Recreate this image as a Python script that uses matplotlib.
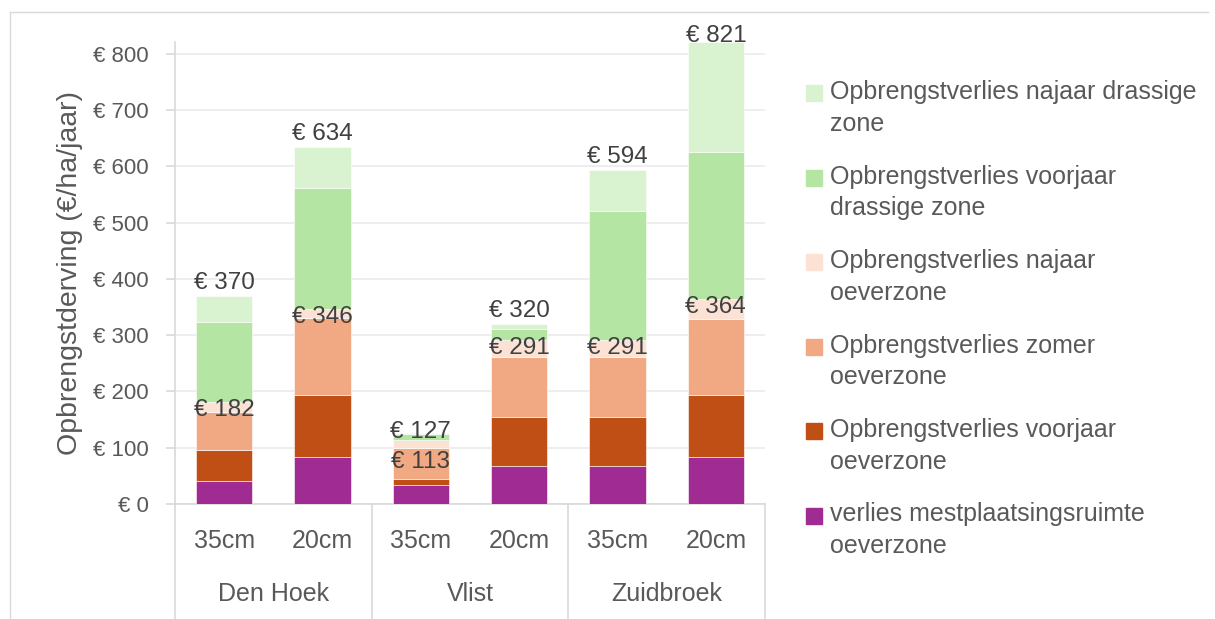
import numpy as np
import matplotlib
matplotlib.use("Agg")
import matplotlib.pyplot as plt
from matplotlib.patches import Rectangle
from matplotlib.lines import Line2D

plt.rcParams['font.family'] = ['Liberation Sans', 'DejaVu Sans']

# data
locaties = ['Den Hoek', 'Vlist', 'Zuidbroek']
dieptes = ['35cm', '20cm', '35cm', '20cm', '35cm', '20cm']

mestplaatsing = [41, 84, 33, 67, 67, 84]
voorjaar_oever = [55, 109, 11, 88, 88, 109]
zomer_oever = [68, 137, 56, 106, 107, 136]
najaar_oever = [18, 16, 13, 30, 29, 35]
voorjaar_drassig = [141, 216, 12, 20, 229, 261]
najaar_drassig = [47, 72, 2, 9, 74, 196]

label_oever = [182, 346, 113, 291, 291, 364]
label_totaal = [370, 634, 127, 320, 594, 821]

series = [
    ('verlies mestplaatsingsruimte\noeverzone', mestplaatsing, '#A02B93'),
    ('Opbrengstverlies voorjaar\noeverzone', voorjaar_oever, '#C04F15'),
    ('Opbrengstverlies zomer\noeverzone', zomer_oever, '#F1A983'),
    ('Opbrengstverlies najaar\noeverzone', najaar_oever, '#FBE2D5'),
    ('Opbrengstverlies voorjaar\ndrassige zone', voorjaar_drassig, '#B4E5A2'),
    ('Opbrengstverlies najaar drassige\nzone', najaar_drassig, '#D9F2D0'),
]

tekst = '#595959'
grijs = '#D9D9D9'
W, H = 1215, 619

fig = plt.figure(figsize=(12.15, 6.19), dpi=100)
ax = fig.add_axes([175 / W, 1 - 504 / H, 590 / W, 462 / H])

x = np.arange(len(dieptes))
bottom = np.zeros(len(dieptes))
for naam, vals, kleur in series:
    ax.bar(x, vals, 0.57, bottom=bottom, color=kleur, label=naam,
           edgecolor='white', linewidth=0.4, zorder=3)
    bottom += np.array(vals)

# data labels
for i in range(len(dieptes)):
    dy = -22 if i == 2 else -8
    ax.annotate(f'€ {label_oever[i]}', (x[i], label_oever[i]), xytext=(0, dy),
                textcoords='offset pixels', ha='center', va='center',
                fontsize=17.5, color='#404040', zorder=5)
    dy = 1 if i == 2 else (6 if i == 5 else 13)
    ax.annotate(f'€ {label_totaal[i]}', (x[i], label_totaal[i]), xytext=(0, dy),
                textcoords='offset pixels', ha='center', va='center',
                fontsize=17.5, color='#404040', zorder=5)

ax.set_xlim(-0.5, len(dieptes) - 0.5)
ax.set_ylim(0, 821)
ax.set_yticks(np.arange(0, 801, 100))
ax.set_yticklabels([f'€ {v}' for v in range(0, 801, 100)])
ax.yaxis.grid(True, color='#EBEBEB', linewidth=1.2, zorder=0)
ax.set_axisbelow(True)
ax.tick_params(axis='y', colors=grijs, labelcolor=tekst, labelsize=16,
               length=6.5, width=1.2, pad=12.5)
ax.set_ylabel('Opbrengstderving (€/ha/jaar)', fontsize=20.5, color=tekst, labelpad=7)

for s in ['top', 'right']:
    ax.spines[s].set_visible(False)
ax.spines['left'].set_color(grijs)
ax.spines['bottom'].set_color(grijs)
ax.spines['left'].set_linewidth(1.2)
ax.spines['bottom'].set_linewidth(1.2)

# two-level category axis
ax.set_xticks([])
trans = ax.get_xaxis_transform()
for i, d in enumerate(dieptes):
    ax.text(x[i], -0.08, d, transform=trans, ha='center', va='center',
            fontsize=18, color=tekst)
for j, loc in enumerate(locaties):
    ax.text(2 * j + 0.5, -0.195, loc, transform=trans, ha='center', va='center',
            fontsize=18, color=tekst)
for xs in [-0.5, 1.5, 3.5, 5.5]:
    ax.add_line(Line2D([xs, xs], [0, -0.25], transform=trans, color=grijs,
                       linewidth=1.2, clip_on=False))

# legend (square lined up with the first text line, like Excel)
for k, (naam, _, kleur) in enumerate(series[::-1]):
    y1 = 93 + k * 84.5
    fig.add_artist(Rectangle((806 / W, 1 - (y1 + 8) / H), 16 / W, 16 / H,
                             transform=fig.transFigure, color=kleur))
    fig.text(830 / W, 1 - (y1 - 13) / H, naam, ha='left', va='top',
             fontsize=18, color=tekst, linespacing=1.42)

# chart border
fig.add_artist(Line2D([10 / W, 10 / W], [0, 1 - 12 / H], color=grijs, linewidth=1))
fig.add_artist(Line2D([10 / W, 1208 / W], [1 - 12 / H, 1 - 12 / H], color=grijs, linewidth=1))

fig.savefig('out.png', dpi=100)
